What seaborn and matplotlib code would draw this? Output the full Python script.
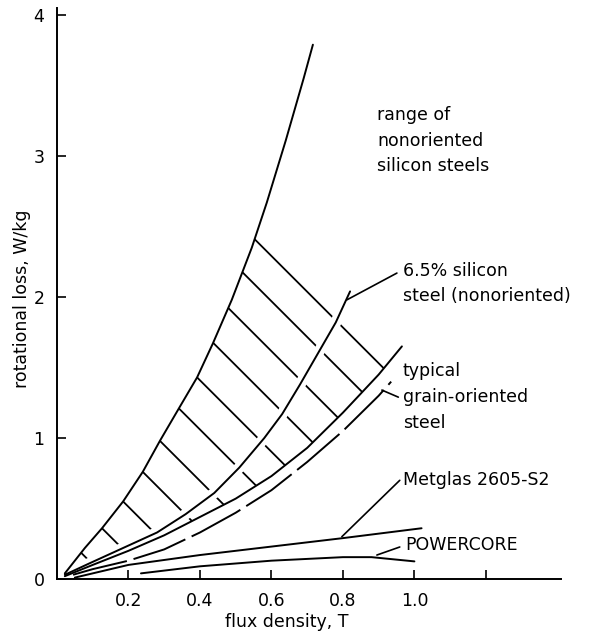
import matplotlib
matplotlib.use("Agg")
import matplotlib.pyplot as plt
import matplotlib.patheffects as pe
import seaborn as sns
import numpy as np

# flux density (T) vs rotational loss (W/kg)
range_top_b = [0.022, 0.078, 0.126, 0.185, 0.24, 0.288, 0.341, 0.392, 0.436, 0.489, 0.545, 0.587, 0.64, 0.69, 0.716]
range_top_loss = [0.04, 0.22, 0.36, 0.55, 0.76, 0.98, 1.21, 1.43, 1.67, 1.98, 2.35, 2.67, 3.11, 3.55, 3.79]

range_low_b = [0.022, 0.1, 0.2, 0.3, 0.4, 0.5, 0.6, 0.7, 0.8, 0.9, 0.965]
range_low_loss = [0.02, 0.1, 0.2, 0.31, 0.44, 0.57, 0.73, 0.93, 1.18, 1.45, 1.65]

si65_b = [0.022, 0.09, 0.185, 0.28, 0.36, 0.44, 0.51, 0.58, 0.63, 0.68, 0.73, 0.78, 0.82]
si65_loss = [0.03, 0.11, 0.22, 0.33, 0.46, 0.61, 0.79, 1.0, 1.17, 1.38, 1.6, 1.82, 2.04]

grain_b = [0.045, 0.1, 0.2, 0.3, 0.4, 0.5, 0.6, 0.7, 0.8, 0.9, 0.935]
grain_loss = [0.03, 0.07, 0.13, 0.21, 0.33, 0.47, 0.63, 0.83, 1.05, 1.3, 1.4]

metglas_b = [0.05, 0.2, 0.4, 0.6, 0.8, 1.02]
metglas_loss = [0.01, 0.1, 0.17, 0.23, 0.29, 0.36]

powercore_b = [0.235, 0.4, 0.6, 0.8, 0.88, 1.0]
powercore_loss = [0.04, 0.09, 0.13, 0.155, 0.155, 0.125]

# where the hatch strokes leave the upper edge of the range
hatch_b = [0.07, 0.126, 0.185, 0.24, 0.288, 0.341, 0.392, 0.439, 0.492, 0.537, 0.565]
hatch_loss = [0.18, 0.36, 0.55, 0.76, 0.98, 1.21, 1.43, 1.67, 1.89, 2.13, 2.38]

x_ticks = [0.2, 0.4, 0.6, 0.8, 1.0, 1.2]
x_ticklabels = ["0.2", "0.4", "0.6", "0.8", "1.0", ""]
y_ticks = [0, 1, 2, 3, 4]

sns.set_theme(style="ticks")
plt.rcParams["font.family"] = ["DejaVu Sans"]
plt.rcParams["lines.scale_dashes"] = False

fig = plt.figure(figsize=(5.96, 6.33), dpi=100)
ax = fig.add_axes([0.0956, 0.0853, 0.8456, 0.902])
ax.set_xlim(0, 1.41)
ax.set_ylim(0, 4.05)

lw = 1.4

# hatched range of nonoriented silicon steels
poly_x = list(range_top_b) + list(range_low_b[::-1])
poly_y = list(range_top_loss) + list(range_low_loss[::-1])
region = ax.fill(poly_x, poly_y, facecolor="none", edgecolor="none")[0]

bb = ax.get_window_extent()
k = (bb.width / 1.41) / (bb.height / 4.05)
for b0, l0 in zip(hatch_b, hatch_loss):
    hx = np.array([b0 - 0.1, b0 + 0.6])
    ln, = ax.plot(hx, l0 - k * (hx - b0), color="black", lw=1.3, zorder=1)
    ln.set_clip_path(region)

sns.lineplot(x=si65_b, y=si65_loss, color="black", lw=lw, ax=ax, zorder=2,
             path_effects=[pe.Stroke(linewidth=8, foreground="white"), pe.Normal()])
sns.lineplot(x=range_top_b, y=range_top_loss, color="black", lw=lw, ax=ax, zorder=3)
sns.lineplot(x=range_low_b, y=range_low_loss, color="black", lw=lw, ax=ax, zorder=3)
sns.lineplot(x=grain_b, y=grain_loss, color="black", lw=lw, ax=ax, zorder=3,
             linestyle=(0, (40, 5)))
sns.lineplot(x=metglas_b, y=metglas_loss, color="black", lw=lw, ax=ax, zorder=3)
sns.lineplot(x=powercore_b, y=powercore_loss, color="black", lw=lw, ax=ax, zorder=3)

fs = 12.5
txt = dict(fontsize=fs, color="black", ha="left", va="center", linespacing=1.55)
ax.text(0.895, 3.11, "range of\nnonoriented\nsilicon steels", **txt)
ax.text(0.968, 2.096, "6.5% silicon\nsteel (nonoriented)", **txt)
ax.text(0.968, 1.29, "typical\ngrain-oriented\nsteel", **txt)
ax.text(0.968, 0.70, "Metglas 2605-S2", **txt)
ax.text(0.973, 0.24, "POWERCORE", **txt)

leaders = [((0.951, 2.17), (0.811, 1.98)),
           ((0.955, 1.29), (0.909, 1.34)),
           ((0.959, 0.70), (0.797, 0.30)),
           ((0.959, 0.227), (0.895, 0.17))]
for start, end in leaders:
    ax.annotate("", xy=end, xytext=start,
                arrowprops=dict(arrowstyle="-", color="black", lw=1.2,
                                shrinkA=0, shrinkB=0))

ax.set_xticks(x_ticks)
ax.set_xticklabels(x_ticklabels)
ax.set_yticks(y_ticks)
ax.set_yticklabels([str(v) for v in y_ticks])
ax.tick_params(direction="in", length=6.5, width=1.2, labelsize=fs, colors="black")
ax.tick_params(axis="x", pad=9)
ax.tick_params(axis="y", pad=9)

ax.set_xlabel("flux density, T", fontsize=fs, color="black")
ax.set_ylabel("rotational loss, W/kg", fontsize=fs, color="black")
ax.xaxis.set_label_coords(0.455, -0.06)
ax.yaxis.set_label_coords(-0.052, 0.49)

sns.despine(ax=ax)
for s in ("left", "bottom"):
    ax.spines[s].set_linewidth(1.4)
    ax.spines[s].set_color("black")

fig.savefig("out.png", dpi=100)
